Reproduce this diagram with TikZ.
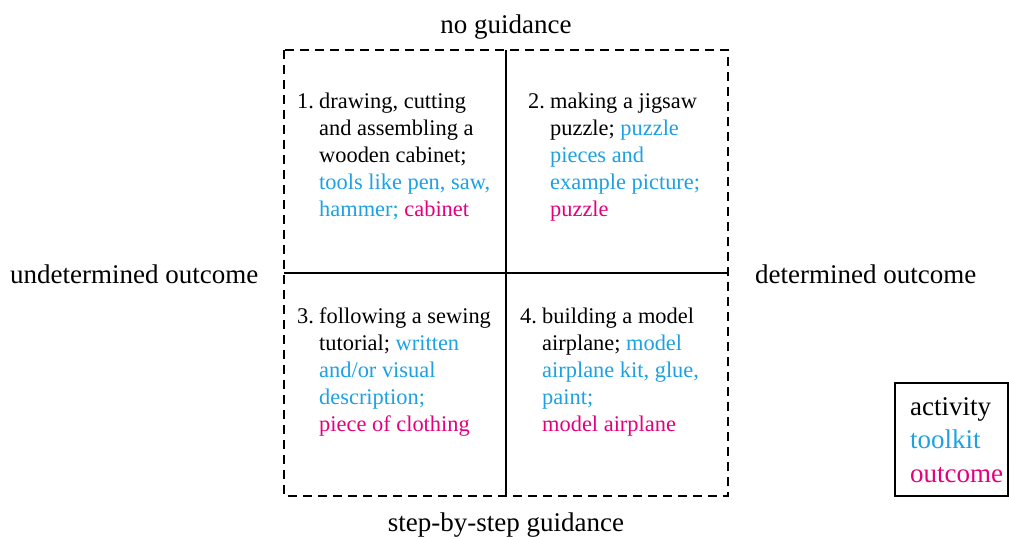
\documentclass[tikz,border=0pt]{standalone}
\usepackage{fontspec}
\setmainfont{Liberation Serif}
\definecolor{tkblue}{RGB}{29,161,226}
\definecolor{tkmag}{RGB}{228,0,124}
\begin{document}
\begin{tikzpicture}[x=1pt,y=-1pt,
  frame/.style={line width=2pt,dash pattern=on 9pt off 6pt},
  divider/.style={line width=2pt},
  qtext/.style={inner sep=0pt,align=left,font=\fontsize{22.4}{26.9}\selectfont},
  qnum/.style={inner sep=0pt,anchor=base west,font=\fontsize{22.4}{26.9}\selectfont},
  axis/.style={inner sep=0pt,font=\fontsize{27}{32}\selectfont}]
\useasboundingbox (0,0) rectangle (1009,536);
% frame
\coordinate (tl) at (284,50);
\coordinate (br) at (728,496);
\coordinate (tm) at (506,50);
\coordinate (bm) at (506,496);
\coordinate (lm) at (284,273);
\coordinate (rm) at (728,273);
\draw[frame] (tl) rectangle (br);
\draw[divider] (tm) -- (bm);
\draw[divider] (lm) -- (rm);
% axis labels
\node[axis,anchor=base] (top) at (506,33) {no guidance};
\node[axis,anchor=base] (bot) at (506,531) {step-by-step guidance};
\node[axis,anchor=base west] (left) at (10,283) {undetermined outcome};
\node[axis,anchor=base west] (right) at (755,283) {determined outcome};
% quadrant 1
\node[qnum] (n1) at (297,108) {1.};
\node[qtext,anchor=north west] (q1) at (319,92.7) {drawing, cutting\\and assembling a\\wooden cabinet;\\\textcolor{tkblue}{tools like pen, saw,}\\\textcolor{tkblue}{hammer;} \textcolor{tkmag}{cabinet}};
% quadrant 2
\node[qnum] (n2) at (528,108) {2.};
\node[qtext,anchor=north west] (q2) at (550,92.7) {making a jigsaw\\puzzle; \textcolor{tkblue}{puzzle}\\\textcolor{tkblue}{pieces and}\\\textcolor{tkblue}{example picture;}\\\textcolor{tkmag}{puzzle}};
% quadrant 3
\node[qnum] (n3) at (297,323) {3.};
\node[qtext,anchor=north west] (q3) at (319,307.7) {following a sewing\\tutorial; \textcolor{tkblue}{written}\\\textcolor{tkblue}{and/or visual}\\\textcolor{tkblue}{description;}\\\textcolor{tkmag}{piece of clothing}};
% quadrant 4
\node[qnum] (n4) at (520,323) {4.};
\node[qtext,anchor=north west] (q4) at (542,307.7) {building a model\\airplane; \textcolor{tkblue}{model}\\\textcolor{tkblue}{airplane kit, glue,}\\\textcolor{tkblue}{paint;}\\\textcolor{tkmag}{model airplane}};
% legend
\coordinate (lgtl) at (895,383);
\coordinate (lgbr) at (1008,496);
\draw[divider] (lgtl) rectangle (lgbr);
\node[axis,anchor=base west] (la) at (910,415) {activity};
\node[axis,anchor=base west,text=tkblue] (lt) at (910,448) {toolkit};
\node[axis,anchor=base west,text=tkmag] (lo) at (910,482) {outcome};
\end{tikzpicture}
\end{document}
